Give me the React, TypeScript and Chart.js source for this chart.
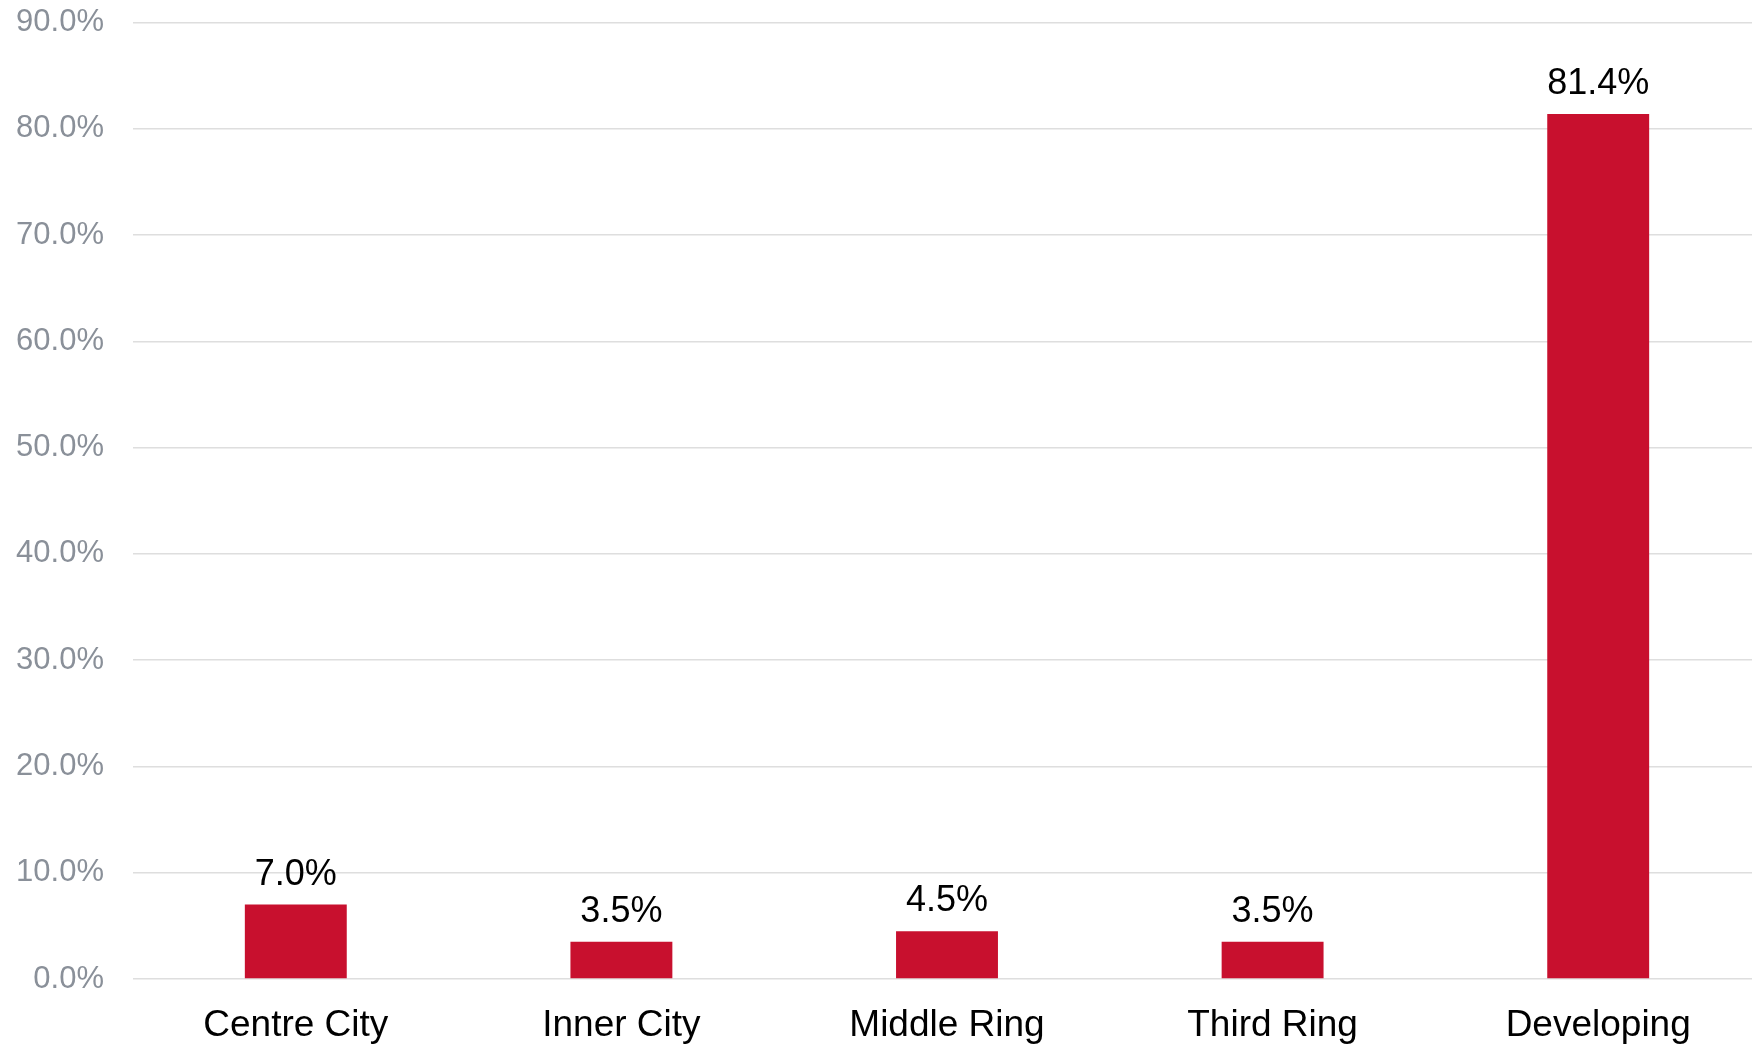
import React, { useEffect, useRef } from "react";
import { Chart, registerables } from "chart.js";

Chart.register(...registerables);

const categories = ["Centre City", "Inner City", "Middle Ring", "Third Ring", "Developing"];
const shares = [7.0, 3.5, 4.5, 3.5, 81.4];
const yMax = 90;
const yStep = 10;

const FONT = "'Liberation Sans', Arial, sans-serif";

const valueLabels = {
  id: "valueLabels",
  afterDatasetsDraw(chart: any) {
    const ctx = chart.ctx;
    const meta = chart.getDatasetMeta(0);
    ctx.save();
    ctx.font = `36px ${FONT}`;
    ctx.fillStyle = "#000000";
    ctx.textAlign = "center";
    ctx.textBaseline = "alphabetic";
    meta.data.forEach((bar: any, i: number) => {
      ctx.fillText(shares[i].toFixed(1) + "%", bar.x, bar.y - 20);
    });
    ctx.restore();
  },
};

export default function App() {
  const ref = useRef<HTMLCanvasElement | null>(null);
  useEffect(() => {
    document.body.style.margin = "0";
    const chart = new Chart(ref.current!, {
      type: "bar",
      data: {
        labels: categories,
        datasets: [
          {
            data: shares,
            backgroundColor: "#c8102e",
            categoryPercentage: 1,
            barPercentage: 0.313,
          },
        ],
      },
      options: {
        animation: false,
        responsive: false,
        maintainAspectRatio: false,
        layout: { padding: 0 },
        plugins: { legend: { display: false }, tooltip: { enabled: false } },
        scales: {
          x: {
            grid: { display: false, drawTicks: false },
            border: { display: false },
            ticks: { color: "#000000", font: { family: FONT, size: 37 }, padding: 25 },
            afterFit: (s: any) => { s.height = 66; },
          },
          y: {
            min: 0,
            max: yMax,
            grid: { color: "#dedede", lineWidth: 1.5, drawTicks: false },
            border: { display: false },
            ticks: {
              stepSize: yStep,
              color: "#8a9099",
              padding: 29,
              font: { family: FONT, size: 31 },
              callback: (v: any) => Number(v).toFixed(1) + "%",
            },
            afterFit: (s: any) => { s.width = 133; },
          },
        },
      },
      plugins: [valueLabels],
    });
    return () => chart.destroy();
  }, []);
  return (
    <div style={{ width: 1752, height: 1045, overflow: "hidden", position: "relative" }}>
      <canvas
        ref={ref}
        width={1761}
        height={1070}
        style={{ display: "block", position: "absolute", left: 0, top: -25 }}
      />
    </div>
  );
}
